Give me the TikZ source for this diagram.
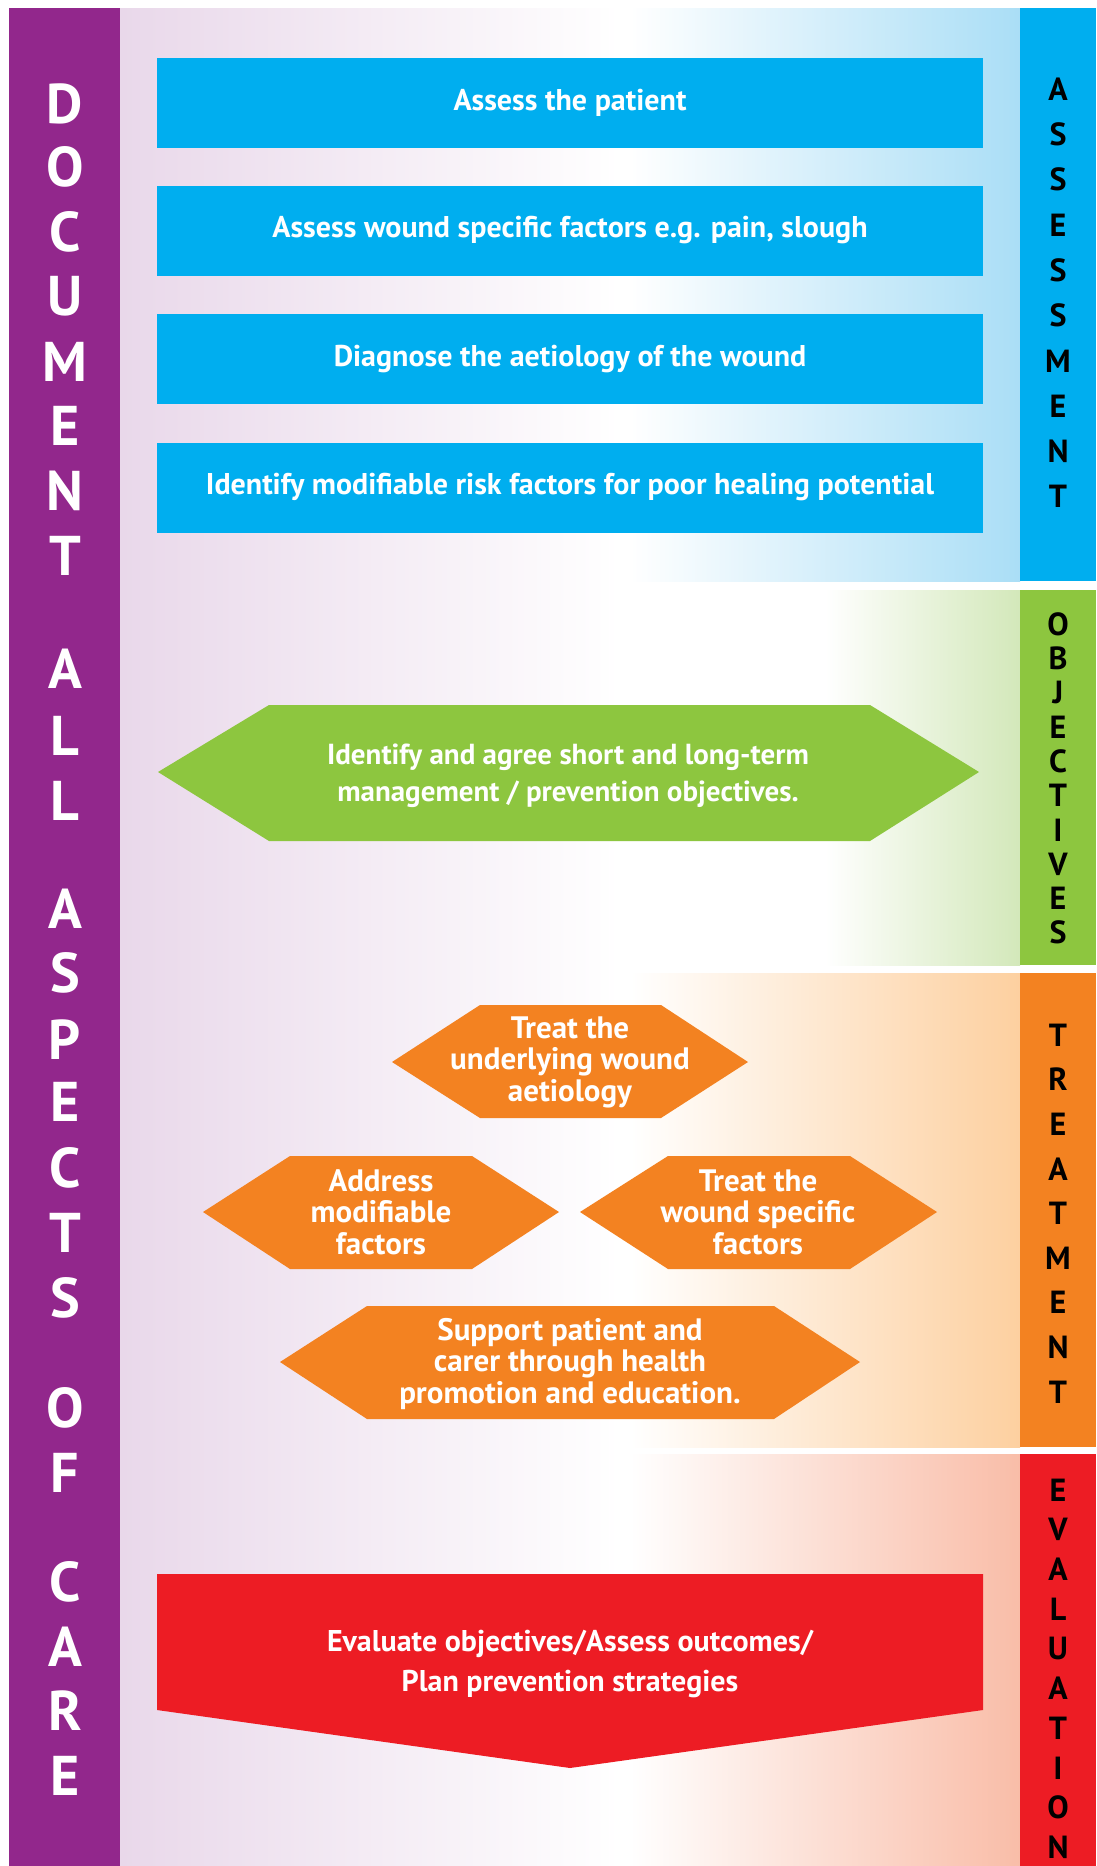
\documentclass[tikz,border=0pt]{standalone}
\usepackage{fontspec}
\setmainfont{PT Sans}
\usepackage{xcolor}
\definecolor{docpurple}{RGB}{146,39,140}
\definecolor{assblue}{RGB}{0,174,239}
\definecolor{objgreen}{RGB}{141,198,63}
\definecolor{treorange}{RGB}{243,130,33}
\definecolor{evared}{RGB}{237,28,36}
\definecolor{lavtint}{RGB}{233,216,234}
\definecolor{bluetint}{RGB}{170,222,246}
\definecolor{greentint}{RGB}{211,232,186}
\definecolor{orangetint}{RGB}{253,208,160}
\definecolor{redtint}{RGB}{249,189,168}

\begin{document}
\begin{tikzpicture}[x=1pt,y=-1pt,
	bluebox/.style={fill=assblue,text=white,inner sep=0pt,minimum width=826pt,minimum height=90pt,font=\bfseries\fontsize{30}{31}\selectfont},
	hextxt/.style={text=white,align=center,font=\bfseries\fontsize{31}{31.5}\selectfont},
	barletter/.style={text=white,font=\bfseries\fontsize{56}{60}\selectfont},
	stageletter/.style={text=black,font=\bfseries\fontsize{32}{34}\selectfont}]
	\fill[white] (0,0) rectangle (1096,1866) ;
	\useasboundingbox (0,0) rectangle (1096,1866) ;
	% fond
	\shade[left color=lavtint,right color=white] (120,8) rectangle (620,1866) ;
	\shade[left color=white,right color=bluetint] (630,8) rectangle (1020,581) ;
	\shade[left color=white,right color=greentint] (825,590) rectangle (1020,965) ;
	\shade[left color=white,right color=orangetint] (630,973) rectangle (1020,1447) ;
	\shade[left color=white,right color=redtint] (630,1454) rectangle (1020,1866) ;
	% barres
	\fill[docpurple] (9,8) rectangle (120,1866) ;
	\fill[assblue] (1020,8) rectangle (1096,581) ;
	\fill[objgreen] (1020,590) rectangle (1096,965) ;
	\fill[treorange] (1020,973) rectangle (1096,1447) ;
	\fill[evared] (1020,1454) rectangle (1096,1866) ;
	\foreach \l/\y in {D/104,O/167,C/232,U/296,M/362,E/426,N/491,T/556,A/669,L/736,L/801,A/909,S/973,P/1040,E/1102,C/1168,T/1233,S/1298,O/1408,F/1473,C/1582,A/1647,R/1711,E/1776}
		\node[barletter] (doc\y) at (65,\y) {\l} ;
	\foreach \l [count=\i from 0] in {A,S,S,E,S,S,M,E,N,T}
		\node[stageletter] (ass\i) at (1058,{89+45.3*\i}) {\l} ;
	\foreach \l [count=\i from 0] in {O,B,J,E,C,T,I,V,E,S}
		\node[stageletter] (obj\i) at (1058,{624+34.3*\i}) {\l} ;
	\foreach \l [count=\i from 0] in {T,R,E,A,T,M,E,N,T}
		\node[stageletter] (tre\i) at (1058,{1035+44.6*\i}) {\l} ;
	\foreach \l [count=\i from 0] in {E,V,A,L,U,A,T,I,O,N}
		\node[stageletter] (eva\i) at (1058,{1490+39.7*\i}) {\l} ;
	% assessment
	\node[bluebox] (patient) at (570,103) {Assess the patient} ;
	\node[bluebox] (woundfac) at (570,230.5) {Assess wound specific factors e.g. pain, slough} ;
	\node[bluebox] (diagnose) at (570,359) {Diagnose the aetiology of the wound} ;
	\node[bluebox] (riskfac) at (570,487.5) {Identify modifiable risk factors for poor healing potential} ;
	% objectives
	\fill[objgreen] (158,772) -- (269,705) -- (870,705) -- (979,772) -- (870,841) -- (269,841) -- cycle ;
	\node[hextxt,font=\bfseries\fontsize{29}{37}\selectfont] (agree) at (568,776) {Identify and agree short and long-term\\management / prevention objectives.} ;
	% treatment
	\fill[treorange] (392,1062) -- (480,1005) -- (661,1005) -- (748,1062) -- (661,1118) -- (480,1118) -- cycle ;
	\node[hextxt] (underlying) at (570,1062) {Treat the\\underlying wound\\aetiology} ;
	\fill[treorange] (203,1212) -- (290,1156) -- (472,1156) -- (559,1212) -- (472,1269) -- (290,1269) -- cycle ;
	\node[hextxt] (address) at (381,1212) {Address\\modifiable\\factors} ;
	\fill[treorange] (580,1212) -- (668,1156) -- (850,1156) -- (937,1212) -- (850,1269) -- (668,1269) -- cycle ;
	\node[hextxt] (specific) at (758,1212) {Treat the\\wound specific\\factors} ;
	\fill[treorange] (280,1362) -- (367,1306) -- (774,1306) -- (860,1362) -- (774,1419) -- (367,1419) -- cycle ;
	\node[hextxt] (support) at (570,1364) {Support patient and\\carer through health\\promotion and education.} ;
	% evaluation
	\fill[evared] (157,1574) -- (983,1574) -- (983,1710) -- (570,1768) -- (157,1710) -- cycle ;
	\node[hextxt,font=\bfseries\fontsize{30}{40}\selectfont] (evaluate) at (570,1664) {Evaluate objectives/Assess outcomes/\\Plan prevention strategies} ;
\end{tikzpicture}
\end{document}
